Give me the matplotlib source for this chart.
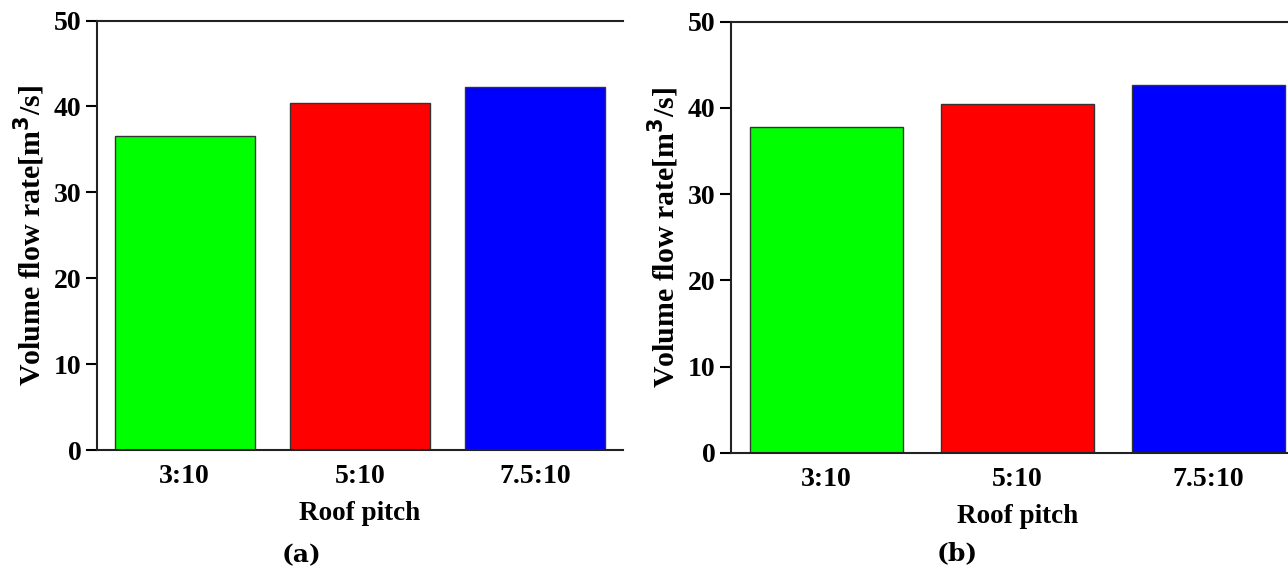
import matplotlib
matplotlib.use("Agg")
import matplotlib.pyplot as plt

categories = ["3:10", "5:10", "7.5:10"]
values_a = [36.55, 40.36, 42.3]
values_b = [37.83, 40.5, 42.66]
colors = ["#00FF00", "#FF0000", "#0000FF"]
yticks = [0, 10, 20, 30, 40, 50]
panel_labels = ["(a)", "(b)"]

plt.rcParams['font.family'] = ['Liberation Serif', 'DejaVu Serif']
plt.rcParams['font.weight'] = 'bold'

W, H = 1288, 573
fig = plt.figure(figsize=(W / 100, H / 100), dpi=100)

def px_axes(left, right, top, bottom):
    return fig.add_axes([left / W, 1 - bottom / H, (right - left) / W, (bottom - top) / H])

ax_a = px_axes(97, 623, 20.5, 450)
ax_b = px_axes(731, 1304, 21.7, 452.7)

for ax, vals, lab, lx, ly in [(ax_a, values_a, panel_labels[0], 302, 555),
                              (ax_b, values_b, panel_labels[1], 957, 553)]:
    x = list(range(len(categories)))
    ax.bar(x, vals, width=0.8, color=colors, edgecolor="#333333", linewidth=1.0)
    ax.set_xlim(-0.5, 2.5)
    ax.set_ylim(0, 50)
    ax.set_yticks(yticks)
    ax.set_xticks(x)
    ax.set_xticklabels(categories)
    ax.spines['right'].set_visible(False)
    for s in ['left', 'bottom', 'top']:
        ax.spines[s].set_linewidth(1.5)
        ax.spines[s].set_color('#222222')
    ax.tick_params(axis='y', direction='out', length=8, width=1.5, labelsize=20, pad=3)
    ax.tick_params(axis='x', length=0, labelsize=20, pad=10)
    for t in ax.get_xticklabels() + ax.get_yticklabels():
        t.set_fontweight('bold')
    ax.set_xlabel("Roof pitch", fontsize=19.5, fontweight='bold', labelpad=9)
    ax.set_ylabel("Volume flow rate[m$^\\mathbf{3}$/s]", fontsize=21.5, fontweight='bold', labelpad=5)
    fig.text(lx / W, 1 - ly / H, lab, ha='center', va='center', fontsize=18,
             fontweight='bold', family=['DejaVu Serif'])

fig.savefig("out.png", dpi=100)
